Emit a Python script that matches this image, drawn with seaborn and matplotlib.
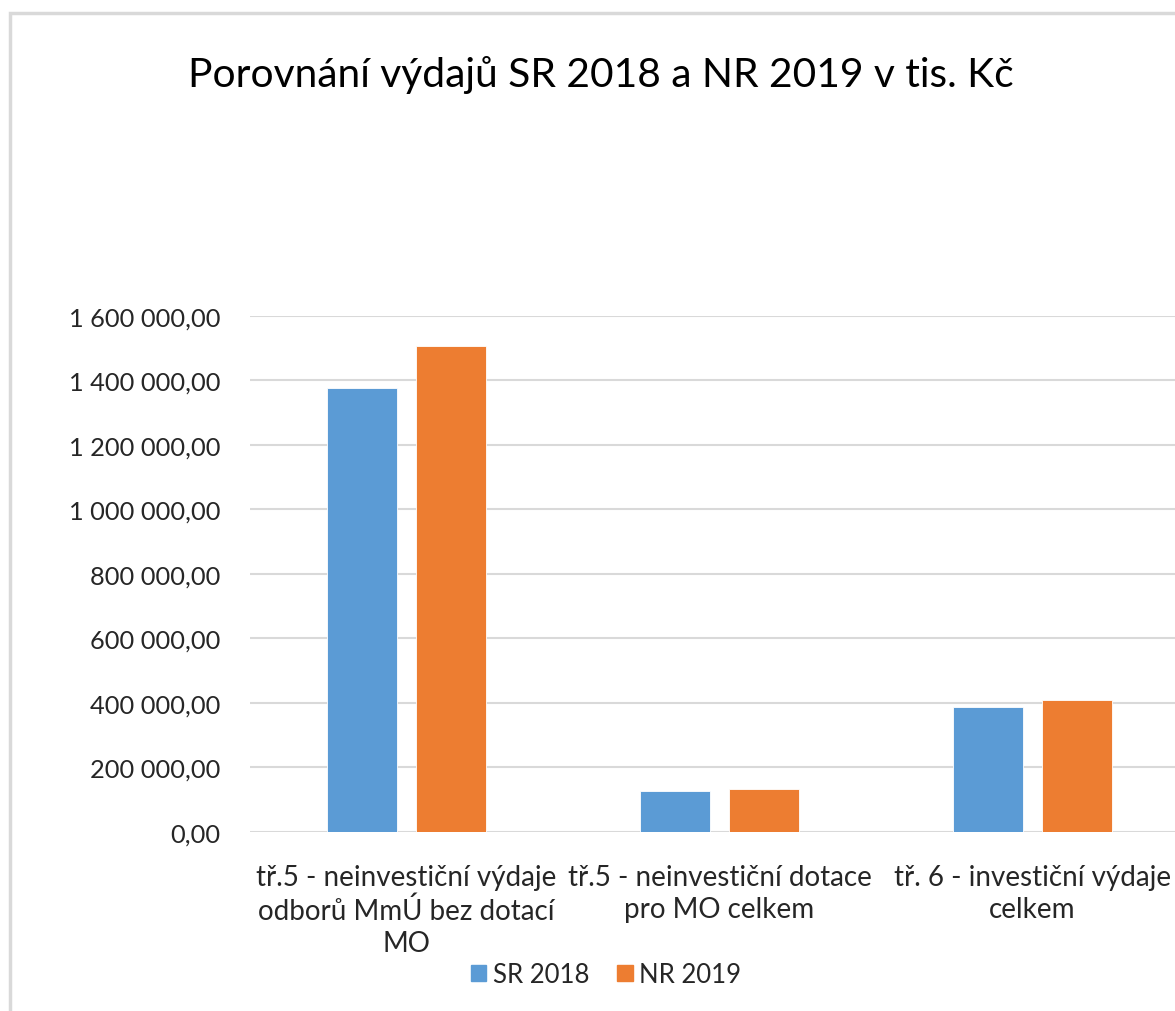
import matplotlib
matplotlib.use("Agg")
import matplotlib.pyplot as plt
import pandas as pd
import seaborn as sns
from matplotlib.patches import Rectangle
from matplotlib.ticker import FuncFormatter

categories = ["tř.5 - neinvestiční výdaje\nodborů MmÚ bez dotací\nMO",
              "tř.5 - neinvestiční dotace\npro MO celkem",
              "tř. 6 - investiční výdaje\ncelkem"]
series = ["SR 2018", "NR 2019"]
sr_2018 = [1377000, 128000, 388000]
nr_2019 = [1507000, 132000, 408000]
colors = ["#5B9BD5", "#ED7D31"]

df = pd.DataFrame({
    "kategorie": categories * 2,
    "rozpocet": series[0:1] * 3 + series[1:2] * 3,
    "hodnota": sr_2018 + nr_2019,
})

sns.set_style("white")
plt.rcParams["font.family"] = ["Lato", "DejaVu Sans"]

fig = plt.figure(figsize=(11.75, 10.12), dpi=100)
ax = fig.add_axes([0.2128, 0.1769, 0.7991, 0.5099])

sns.barplot(data=df, x="kategorie", y="hodnota", hue="rozpocet",
            palette=colors, saturation=1, width=0.569, gap=0.213,
            legend=False, edgecolor="white", linewidth=0.6, ax=ax)

ax.set_xlim(-0.5, 2.5)
ax.set_ylim(0, 1600000)
ax.set_yticks(range(0, 1600001, 200000))
ax.yaxis.set_major_formatter(FuncFormatter(
    lambda v, p: f"{v:,.2f}".replace(",", " ").replace(".", ",")))
ax.grid(axis="y", color="#D9D9D9", linewidth=1.5)
ax.set_axisbelow(True)
for s in ax.spines.values():
    s.set_visible(False)
ax.tick_params(axis="y", length=0, labelsize=18.3, colors="#262626", pad=21)
ax.tick_params(axis="x", length=0, labelsize=20, colors="#262626", pad=23)
for t in ax.get_xticklabels():
    t.set_linespacing(1.3)
ax.set_xlabel("")
ax.set_ylabel("")

fig.text(0.511, 0.926, "Porovnání výdajů SR 2018 a NR 2019 v tis. Kč",
         ha="center", va="center", fontsize=29.3, color="#000000")

handles = [Rectangle((0, 0), 1, 1, color=c) for c in colors]
fig.legend(handles, series, loc="center", bbox_to_anchor=(0.5157, 0.036),
           ncol=2, frameon=False, fontsize=18.5, handlelength=0.6,
           handleheight=0.6, handletextpad=0.25, columnspacing=1.1,
           labelcolor="#262626", borderpad=0.2)

fig.patches.append(Rectangle((10 / 1175, -0.2), 1.2, 1.2 - 14 / 1012,
                             transform=fig.transFigure, fill=False,
                             edgecolor="#D9D9D9", linewidth=2.5))

fig.savefig("out.png", dpi=100, facecolor="white")
